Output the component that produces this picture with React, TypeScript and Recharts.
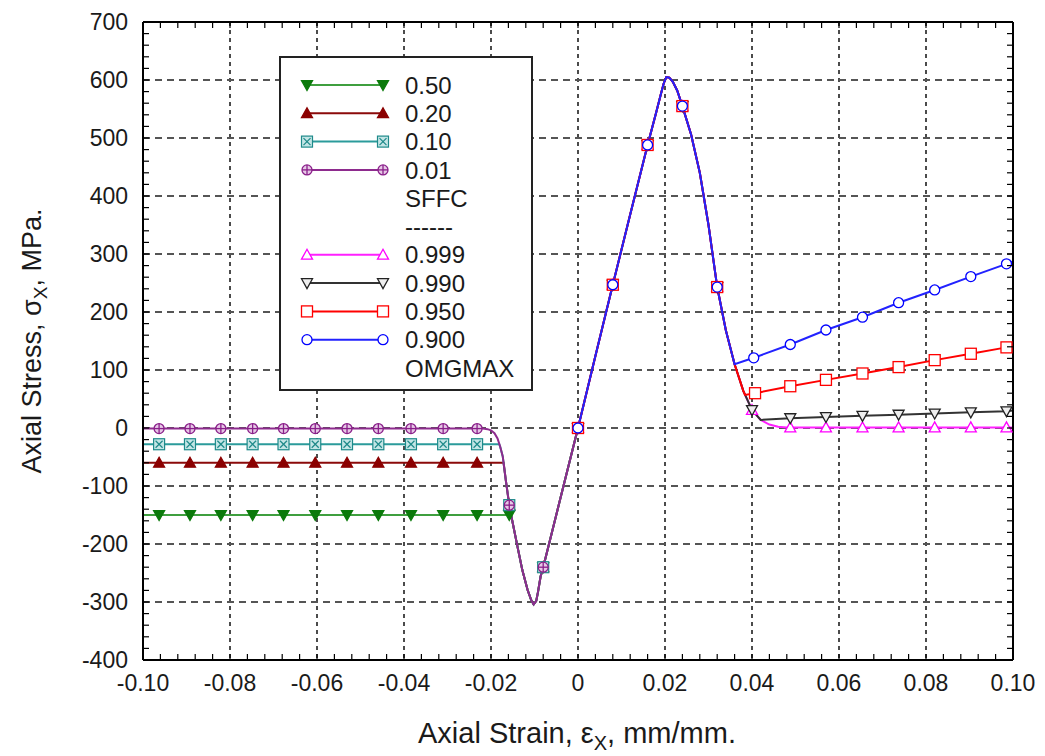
import { CartesianGrid, ComposedChart, Line, Scatter, XAxis, YAxis } from "recharts";

// axis ticks
const xMajor = [-0.1, -0.08, -0.06, -0.04, -0.02, 0, 0.02, 0.04, 0.06, 0.08, 0.1];
const xMajorLabels = ["-0.10", "-0.08", "-0.06", "-0.04", "-0.02", "0", "0.02", "0.04", "0.06", "0.08", "0.10"];
const yMajor = [-400, -300, -200, -100, 0, 100, 200, 300, 400, 500, 600, 700];
const yMajorLabels = ["-400", "-300", "-200", "-100", "0", "100", "200", "300", "400", "500", "600", "700"];
const xMinor = Array.from({ length: 51 }, (_, i) => Math.round((-0.1 + i * 0.004) * 10000) / 10000);
const yMinor = Array.from({ length: 56 }, (_, i) => -400 + i * 20);
const X_DOMAIN = [-0.1, 0.1];
const Y_DOMAIN = [-400, 700];

// SFFC side (compression, x <= 0)
const sffcNames = ["0.50", "0.20", "0.10", "0.01"];
const sffcLevels = [-150, -60, -28, -1];
const sffcJoinX = [-0.0154, -0.0171, -0.0181, -0.022];
const sffcDiveX = [-0.0215, -0.0208, -0.02, -0.0192, -0.0185, -0.0179, -0.0173, -0.0166, -0.0158, -0.015, -0.0139, -0.0128, -0.0116, -0.0108, -0.0102, -0.0096, -0.0092, -0.0086, -0.008, -0.006, -0.004, -0.002, 0];
const sffcDiveY = [-1.5, -2, -4, -9, -18, -32, -49, -90, -133, -164, -205, -245, -279, -296, -304, -298, -283, -256, -240, -180, -120, -60, 0];
const sffcMarkX = [-0.0963, -0.0892, -0.0821, -0.0748, -0.0677, -0.0604, -0.0531, -0.0459, -0.0384, -0.031, -0.0232];
const sffcTailMarkX = [-0.0158, -0.008];
const sffcTailMarkY = [
  [-150, -240],
  [-133, -240],
  [-133, -240],
  [-133, -240],
];

// OMGMAX side (tension, x >= 0)
const omgNames = ["0.999", "0.990", "0.950", "0.900"];
const omgRiseX = [0, 0.004, 0.008, 0.012, 0.016, 0.018, 0.019, 0.0197, 0.0203, 0.021, 0.0218, 0.0228, 0.024, 0.026, 0.028, 0.03, 0.032, 0.034, 0.036, 0.038, 0.04, 0.042, 0.044, 0.046, 0.048];
const omgRiseY = [0, 124, 247, 368, 488, 545, 574, 594, 605, 604, 597, 582, 555, 506, 440, 350, 243, 168, 110, 64, 31, 14, 6, 2, 1];
const omgBranchX = [0.048, 0.042, 0.038, 0.036];
const omgTailX = [
  [0.0488, 0.057, 0.0654, 0.0737, 0.082, 0.0903, 0.0985, 0.1],
  [0.0488, 0.057, 0.0654, 0.0737, 0.082, 0.0903, 0.0985, 0.1],
  [0.0384, 0.0407, 0.0488, 0.057, 0.0654, 0.0737, 0.082, 0.0903, 0.0985, 0.1],
  [0.0404, 0.0488, 0.057, 0.0654, 0.0737, 0.082, 0.0903, 0.0985, 0.1],
];
const omgTailY = [
  [1, 1, 1, 1, 1, 1, 1, 1],
  [17, 19, 21, 23, 25, 27, 29, 30],
  [57, 60, 72, 83, 94, 105, 117, 128, 139, 141],
  [121, 144, 169, 191, 216, 238, 261, 283, 287],
];
const omgMarkX = [
  [0, 0.008, 0.016, 0.024, 0.032, 0.04, 0.0488, 0.057, 0.0654, 0.0737, 0.082, 0.0903, 0.0985],
  [0, 0.008, 0.016, 0.024, 0.032, 0.04, 0.0488, 0.057, 0.0654, 0.0737, 0.082, 0.0903, 0.0985],
  [0, 0.008, 0.016, 0.024, 0.032, 0.0407, 0.0488, 0.057, 0.0654, 0.0737, 0.082, 0.0903, 0.0985],
  [0, 0.008, 0.016, 0.024, 0.032, 0.0404, 0.0488, 0.057, 0.0654, 0.0737, 0.082, 0.0903, 0.0985],
];
const omgMarkY = [
  [0, 247, 488, 555, 243, 31, 1, 1, 1, 1, 1, 1, 1],
  [0, 247, 488, 555, 243, 31, 17, 19, 21, 23, 25, 27, 29],
  [0, 247, 488, 555, 243, 60, 72, 83, 94, 105, 117, 128, 139],
  [0, 247, 488, 555, 243, 121, 144, 169, 191, 216, 238, 261, 283],
];

const FONT = "'Liberation Sans', Arial, sans-serif";
const INK = "#1a1a1a";
const TICK = 6;

type Kind = "triDownFill" | "triUpFill" | "squareX" | "circlePlus" | "triUp" | "triDown" | "square" | "circle";
type Style = { name: string; line: string; stroke: string; fill: string; kind: Kind };

const sffcStyles: Style[] = [
  { name: sffcNames[0], line: "#3f9f3f", stroke: "#0b7a0b", fill: "#0b7a0b", kind: "triDownFill" },
  { name: sffcNames[1], line: "#8b0a0a", stroke: "#8b0000", fill: "#8b0000", kind: "triUpFill" },
  { name: sffcNames[2], line: "#2b9b9b", stroke: "#1f8a8a", fill: "#c4e6e6", kind: "squareX" },
  { name: sffcNames[3], line: "#8e2b8e", stroke: "#8a1f8a", fill: "#e6c8e6", kind: "circlePlus" },
];
const omgStyles: Style[] = [
  { name: omgNames[0], line: "#ff20ff", stroke: "#ff00ff", fill: "#ffffff", kind: "triUp" },
  { name: omgNames[1], line: "#333333", stroke: "#222222", fill: "#eeeeee", kind: "triDown" },
  { name: omgNames[2], line: "#ff0000", stroke: "#ff0000", fill: "#ffffff", kind: "square" },
  { name: omgNames[3], line: "#2222ff", stroke: "#0000ff", fill: "#ffffff", kind: "circle" },
];

const sffcLines = sffcLevels.map((lvl, i) => [
  { x: -0.1, y: lvl },
  { x: sffcJoinX[i], y: lvl },
  ...sffcDiveX.map((x, j) => ({ x, y: sffcDiveY[j] })).filter((p) => p.x > sffcJoinX[i]),
]);
const sffcMarks = sffcLevels.map((lvl, i) => [
  ...sffcMarkX.map((x) => ({ x, y: lvl })),
  ...sffcTailMarkX.map((x, j) => ({ x, y: sffcTailMarkY[i][j] })),
]);
const omgLines = omgBranchX.map((bx, i) => [
  ...omgRiseX.map((x, j) => ({ x, y: omgRiseY[j] })).filter((p) => p.x <= bx),
  ...omgTailX[i].map((x, j) => ({ x, y: omgTailY[i][j] })),
]);
const omgMarks = omgMarkX.map((xs, i) => xs.map((x, j) => ({ x, y: omgMarkY[i][j] })));

function Mark({ kind, cx, cy, stroke, fill }: { kind: Kind; cx: number; cy: number; stroke: string; fill: string }) {
  const s = 5.5;
  if (kind === "triDownFill" || kind === "triDown") {
    return (
      <polygon
        points={`${cx - s},${cy - s * 0.8} ${cx + s},${cy - s * 0.8} ${cx},${cy + s}`}
        fill={fill}
        stroke={stroke}
        strokeWidth={1.3}
      />
    );
  }
  if (kind === "triUpFill" || kind === "triUp") {
    return (
      <polygon
        points={`${cx - s},${cy + s * 0.8} ${cx + s},${cy + s * 0.8} ${cx},${cy - s}`}
        fill={fill}
        stroke={stroke}
        strokeWidth={1.3}
      />
    );
  }
  if (kind === "squareX") {
    return (
      <g stroke={stroke} strokeWidth={1.2}>
        <rect x={cx - s} y={cy - s} width={2 * s} height={2 * s} fill={fill} />
        <line x1={cx - s + 2} y1={cy - s + 2} x2={cx + s - 2} y2={cy + s - 2} />
        <line x1={cx - s + 2} y1={cy + s - 2} x2={cx + s - 2} y2={cy - s + 2} />
      </g>
    );
  }
  if (kind === "circlePlus") {
    return (
      <g stroke={stroke} strokeWidth={1.3}>
        <circle cx={cx} cy={cy} r={5} fill={fill} />
        <line x1={cx - 5} y1={cy} x2={cx + 5} y2={cy} />
        <line x1={cx} y1={cy - 5} x2={cx} y2={cy + 5} />
      </g>
    );
  }
  if (kind === "square") {
    return <rect x={cx - s} y={cy - s} width={2 * s} height={2 * s} fill={fill} stroke={stroke} strokeWidth={1.3} />;
  }
  return <circle cx={cx} cy={cy} r={5} fill={fill} stroke={stroke} strokeWidth={1.3} />;
}

const isMajor = (v: number, list: number[]) => list.findIndex((m) => Math.abs(m - v) < 1e-6);

// grid positions from the axis scale when available, else from the plot offset
function gridX({ xAxis, offset }: any) {
  const vals = xMajor.slice(1, -1);
  if (xAxis && typeof xAxis.scale === "function") return vals.map((v) => xAxis.scale(v));
  return vals.map((v) => offset.left + ((v - X_DOMAIN[0]) / (X_DOMAIN[1] - X_DOMAIN[0])) * offset.width);
}
function gridY({ yAxis, offset }: any) {
  const vals = yMajor.slice(1, -1);
  if (yAxis && typeof yAxis.scale === "function") return vals.map((v) => yAxis.scale(v));
  return vals.map((v) => offset.top + ((Y_DOMAIN[1] - v) / (Y_DOMAIN[1] - Y_DOMAIN[0])) * offset.height);
}

function BottomTick(p: any) {
  const i = isMajor(p.payload.value, xMajor);
  return (
    <g>
      <line x1={p.x} x2={p.x} y1={p.y} y2={p.y - TICK} stroke="#000" strokeWidth={1.2} />
      {i >= 0 && (
        <text x={p.x} y={p.y + 15} dy="0.71em" textAnchor="middle" fontSize={23} fontFamily={FONT} fill={INK}>
          {xMajorLabels[i]}
        </text>
      )}
    </g>
  );
}

function LeftTick(p: any) {
  const i = isMajor(p.payload.value, yMajor);
  return (
    <g>
      <line x1={p.x} x2={p.x + TICK} y1={p.y} y2={p.y} stroke="#000" strokeWidth={1.2} />
      {i >= 0 && (
        <text x={p.x - 15} y={p.y} dy="0.36em" textAnchor="end" fontSize={23} fontFamily={FONT} fill={INK}>
          {yMajorLabels[i]}
        </text>
      )}
    </g>
  );
}

function TopTick(p: any) {
  return <line x1={p.x} x2={p.x} y1={p.y} y2={p.y + TICK} stroke="#000" strokeWidth={1.2} />;
}

function RightTick(p: any) {
  return <line x1={p.x} x2={p.x - TICK} y1={p.y} y2={p.y} stroke="#000" strokeWidth={1.2} />;
}

const legendRows = [
  { label: "0.50", style: sffcStyles[0] },
  { label: "0.20", style: sffcStyles[1] },
  { label: "0.10", style: sffcStyles[2] },
  { label: "0.01", style: sffcStyles[3] },
  { label: "SFFC" },
  { label: "------" },
  { label: "0.999", style: omgStyles[0] },
  { label: "0.990", style: omgStyles[1] },
  { label: "0.950", style: omgStyles[2] },
  { label: "0.900", style: omgStyles[3] },
  { label: "OMGMAX" },
];

function Overlay() {
  return (
    <svg width={1045} height={756} style={{ position: "absolute", left: 0, top: 0, pointerEvents: "none" }}>
      <rect x={280} y={57} width={252} height={333} fill="#fff" stroke="#222" strokeWidth={2} />
      {legendRows.map((r, i) => {
        const cy = 85 + i * 28.3;
        return (
          <g key={r.label + i}>
            {r.style && (
              <>
                <line x1={307} x2={383} y1={cy} y2={cy} stroke={r.style.line} strokeWidth={2} />
                <Mark kind={r.style.kind} cx={307} cy={cy} stroke={r.style.stroke} fill={r.style.fill} />
                <Mark kind={r.style.kind} cx={383} cy={cy} stroke={r.style.stroke} fill={r.style.fill} />
              </>
            )}
            <text x={405} y={cy} dy="0.36em" fontSize={24} fontFamily={FONT} fill={INK}>
              {r.label}
            </text>
          </g>
        );
      })}
      <text transform="rotate(-90)" x={-341} y={41} textAnchor="middle" fontSize={27} fontFamily={FONT} fill={INK}>
        Axial Stress, σ
        <tspan dy={6} fontSize={19}>X</tspan>
        <tspan dy={-6}>, MPa.</tspan>
      </text>
      <text x={577} y={743} textAnchor="middle" fontSize={29} fontFamily={FONT} fill={INK}>
        Axial Strain, ε
        <tspan dy={7} fontSize={20}>X</tspan>
        <tspan dy={-7}>, mm/mm.</tspan>
      </text>
    </svg>
  );
}

export default function App() {
  return (
    <div style={{ position: "absolute", left: 0, top: 0, width: 1045, height: 756, background: "#fff" }}>
      <ComposedChart width={1045} height={756} margin={{ top: 21, right: 31, bottom: 66, left: 83 }}>
        <CartesianGrid
          horizontal={false}
          stroke="#111"
          strokeWidth={1.5}
          strokeDasharray="4 4"
          verticalCoordinatesGenerator={gridX}
        />
        <CartesianGrid
          vertical={false}
          stroke="#555"
          strokeWidth={2}
          strokeDasharray="7 5"
          horizontalCoordinatesGenerator={gridY}
        />
        <XAxis
          dataKey="x"
          type="number"
          domain={X_DOMAIN}
          allowDataOverflow
          ticks={xMinor}
          interval={0}
          height={30}
          tickSize={0}
          tickMargin={0}
          tickLine={false}
          tick={BottomTick}
          axisLine={{ stroke: "#000", strokeWidth: 2 }}
        />
        <XAxis
          xAxisId="top"
          orientation="top"
          dataKey="x"
          type="number"
          domain={X_DOMAIN}
          allowDataOverflow
          ticks={xMinor}
          interval={0}
          height={1}
          tickSize={0}
          tickMargin={0}
          tickLine={false}
          tick={TopTick}
          axisLine={{ stroke: "#000", strokeWidth: 2 }}
        />
        <YAxis
          type="number"
          domain={Y_DOMAIN}
          allowDataOverflow
          ticks={yMinor}
          interval={0}
          width={60}
          tickSize={0}
          tickMargin={0}
          tickLine={false}
          tick={LeftTick}
          axisLine={{ stroke: "#000", strokeWidth: 2 }}
        />
        <YAxis
          yAxisId="right"
          orientation="right"
          type="number"
          domain={Y_DOMAIN}
          allowDataOverflow
          ticks={yMinor}
          interval={0}
          width={1}
          tickSize={0}
          tickMargin={0}
          tickLine={false}
          tick={RightTick}
          axisLine={{ stroke: "#000", strokeWidth: 2 }}
        />
        {sffcStyles.map((st, i) => (
          <Line
            key={"sl" + st.name}
            data={sffcLines[i]}
            dataKey="y"
            type="linear"
            stroke={st.line}
            strokeWidth={2}
            dot={false}
            isAnimationActive={false}
          />
        ))}
        {sffcStyles.map((st, i) => (
          <Scatter
            key={"sm" + st.name}
            data={sffcMarks[i]}
            dataKey="y"
            isAnimationActive={false}
            shape={(p: any) => <Mark kind={st.kind} cx={p.cx} cy={p.cy} stroke={st.stroke} fill={st.fill} />}
          />
        ))}
        {omgStyles.map((st, i) => (
          <Line
            key={"ol" + st.name}
            data={omgLines[i]}
            dataKey="y"
            type="linear"
            stroke={st.line}
            strokeWidth={2}
            dot={false}
            isAnimationActive={false}
          />
        ))}
        {omgStyles.map((st, i) => (
          <Scatter
            key={"om" + st.name}
            data={omgMarks[i]}
            dataKey="y"
            isAnimationActive={false}
            shape={(p: any) => <Mark kind={st.kind} cx={p.cx} cy={p.cy} stroke={st.stroke} fill={st.fill} />}
          />
        ))}
      </ComposedChart>
      <Overlay />
    </div>
  );
}
